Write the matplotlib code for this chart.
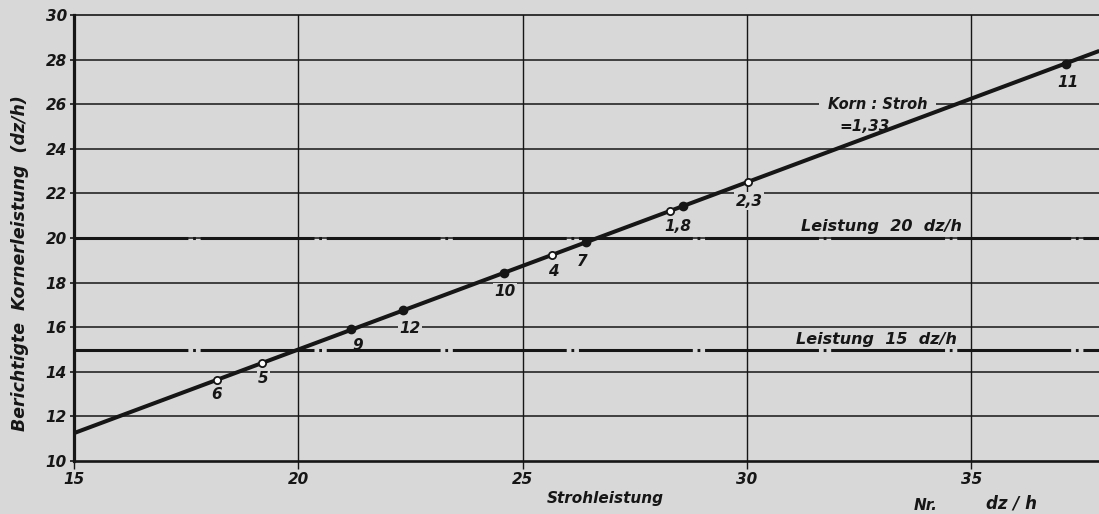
import matplotlib
matplotlib.use("Agg")
import matplotlib.pyplot as plt

# ---------------- data ----------------
x_ticks = [15, 20, 25, 30, 35]
y_ticks = [10, 12, 14, 16, 18, 20, 22, 24, 26, 28, 30]
line_x = [15.0, 37.85]
line_y = [11.25, 28.39]          # Korn : Stroh = 1,33

open_labels = ["6", "5", "4", "1", "2,3"]
open_x = [18.18, 19.18, 25.65, 28.28, 30.02]
open_y = [13.65, 14.40, 19.25, 21.20, 22.50]

filled_labels = ["9", "12", "10", "7", "8", "11"]
filled_x = [21.17, 22.34, 24.58, 26.40, 28.57, 37.10]
filled_y = [15.90, 16.75, 18.45, 19.80, 21.45, 27.80]

# point label texts (1 and 8 share one label)
label_text = {"6": "6", "5": "5", "4": "4", "1": "1,8", "2,3": "2,3",
              "9": "9", "12": "12", "10": "10", "7": "7", "8": None, "11": "11"}
label_offset = {"6": (0, -15), "5": (2, -16), "4": (1, -17), "1": (8, -15),
                "2,3": (1, -19), "9": (7, -16), "12": (7, -18), "10": (1, -19),
                "7": (-3, -19), "11": (2, -18)}

limit_levels = [20, 15]
limit_texts = ["Leistung  20  dz/h", "Leistung  15  dz/h"]

# ---------------- style ----------------
BG = "#d8d8d8"
INK = "#161616"
plt.rcParams["lines.scale_dashes"] = False
plt.rcParams["font.family"] = ["DejaVu Sans"]

fig = plt.figure(figsize=(10.99, 5.14), dpi=100, facecolor=BG)
ax = fig.add_axes([74 / 1099, 1 - 461 / 514, 1025 / 1099, 446 / 514])
ax.set_facecolor(BG)
ax.set_xlim(15, 15 + 1025 / 44.87)
ax.set_ylim(10, 30)

# grid
for yv in y_ticks[1:-1]:
    ax.axhline(yv, color=INK, lw=1.1, zorder=1)
for xv in x_ticks[1:]:
    ax.axvline(xv, color=INK, lw=1.0, zorder=1)

# spines
ax.spines["right"].set_visible(False)
ax.spines["left"].set_linewidth(2.3)
ax.spines["bottom"].set_linewidth(1.9)
ax.spines["top"].set_linewidth(1.2)
for s in ax.spines.values():
    s.set_color(INK)

ax.set_xticks(x_ticks)
ax.set_yticks(y_ticks)
ax.set_xticklabels([str(v) for v in x_ticks])
ax.set_yticklabels([str(v) for v in y_ticks])
ax.tick_params(axis="x", length=6, width=1.0, color=INK, pad=2, labelsize=11)
ax.tick_params(axis="y", length=3, width=1.2, color=INK, pad=2, labelsize=11)
for lab in ax.get_xticklabels() + ax.get_yticklabels():
    lab.set_fontweight("bold")
    lab.set_fontstyle("italic")
    lab.set_color(INK)

# dash-dot limit lines
for lev in limit_levels:
    ln, = ax.plot([15, 40], [lev, lev], color=INK, lw=2.2, zorder=3.5,
                  solid_capstyle="butt")
    ln.set_dashes([82, 3.4, 2.0, 3.4])
    ln.set_dash_capstyle("butt")

# limit texts
ax.annotate(limit_texts[0], xy=(30, 20), xytext=(880 - 746, 11), textcoords="offset pixels",
            ha="center", va="center", fontsize=11.5, fontweight="bold", fontstyle="italic",
            color=INK, zorder=3)
ax.annotate(limit_texts[1], xy=(30, 15), xytext=(875 - 746, 10), textcoords="offset pixels",
            ha="center", va="center", fontsize=11.5, fontweight="bold", fontstyle="italic",
            color=INK, zorder=3)

# regression line
ax.plot(line_x, line_y, color=INK, lw=2.9, zorder=4, solid_capstyle="butt")

# markers
ax.plot(filled_x, filled_y, "o", ms=6.0, mfc=INK, mec=INK, zorder=5, ls="none")
ax.plot(open_x, open_y, "o", ms=5.2, mfc="white", mec=INK, mew=1.3, zorder=5, ls="none")

bbox = dict(boxstyle="square,pad=0.1", fc=BG, ec="none")
for lbls, xs, ys in [(open_labels, open_x, open_y), (filled_labels, filled_x, filled_y)]:
    for l, xv, yv in zip(lbls, xs, ys):
        t = label_text[l]
        if t is None:
            continue
        ax.annotate(t, xy=(xv, yv), xytext=label_offset[l], textcoords="offset pixels",
                    ha="center", va="center", fontsize=11, fontweight="bold",
                    fontstyle="italic", color=INK, zorder=3, bbox=bbox)

# ratio annotation
ax.annotate("Korn : Stroh", xy=(35, 26), xytext=(876 - 970, 0), textcoords="offset pixels",
            ha="center", va="center", fontsize=10.5, fontweight="bold", fontstyle="italic",
            color=INK, zorder=3, bbox=dict(boxstyle="square,pad=0.6", fc=BG, ec="none"))
ax.annotate("=1,33", xy=(35, 26), xytext=(863 - 970, -22), textcoords="offset pixels",
            ha="center", va="center", fontsize=11, fontweight="bold", fontstyle="italic",
            color=INK, zorder=3)

# axis titles
fig.text(20 / 1099, 1 - 263 / 514, "Berichtigte  Kornerleistung  (dz/h)", rotation=90,
         ha="center", va="center", fontsize=12.5, fontweight="bold", fontstyle="italic",
         color=INK)
fig.text(605 / 1099, 1 - 498 / 514, "Strohleistung", ha="center", va="center",
         fontsize=11, fontweight="bold", fontstyle="italic", color=INK)
fig.text(1012 / 1099, 1 - 503 / 514, "dz / h", ha="center", va="center",
         fontsize=12, fontweight="bold", fontstyle="italic", color=INK)
fig.text(926 / 1099, 1 - 505 / 514, "Nr.", ha="center", va="center",
         fontsize=11, fontweight="bold", fontstyle="italic", color=INK)

fig.savefig("out.png", dpi=100, facecolor=BG)
